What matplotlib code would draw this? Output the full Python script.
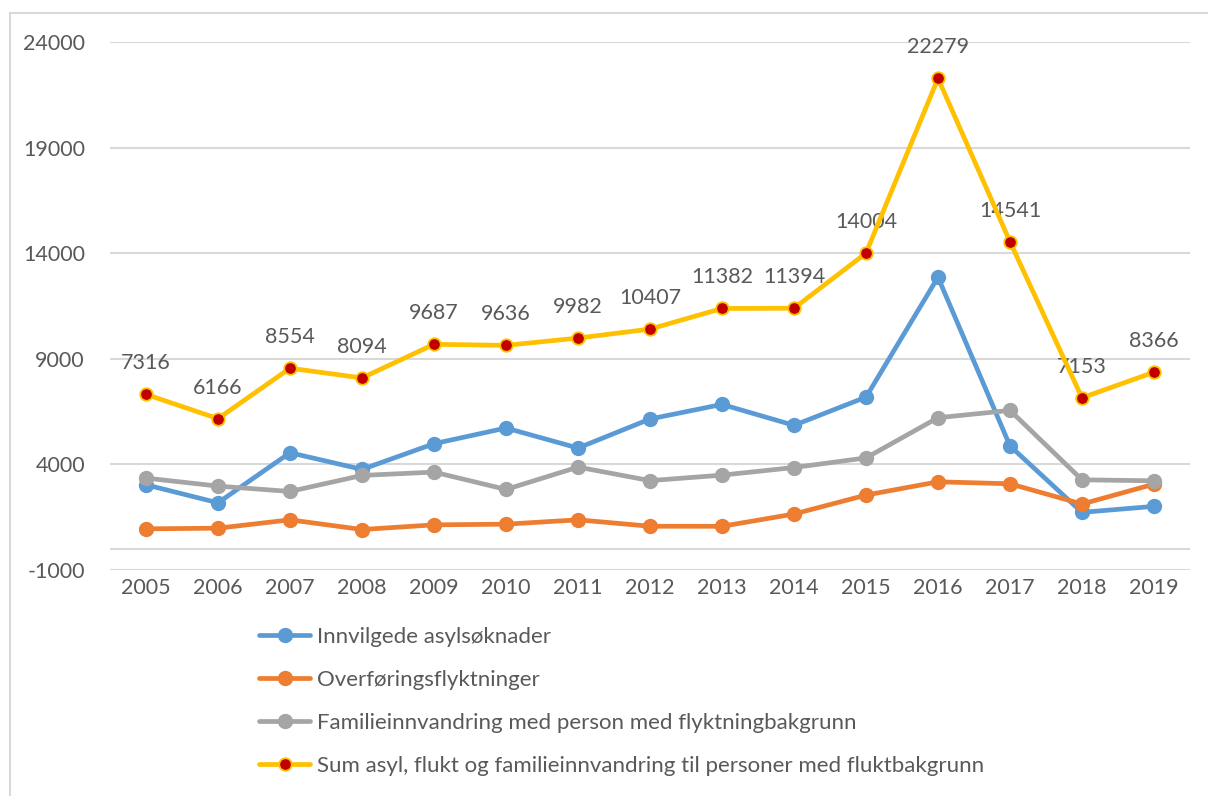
import matplotlib.pyplot as plt
from matplotlib.patches import Rectangle

plt.rcParams['font.family'] = ['Lato', 'DejaVu Sans']

years = ["2005", "2006", "2007", "2008", "2009", "2010", "2011", "2012",
         "2013", "2014", "2015", "2016", "2017", "2018", "2019"]

asyl = [3036, 2182, 4553, 3763, 4980, 5723, 4775, 6150,
        6840, 5850, 7186, 12862, 4874, 1730, 2013]
overforing = [949, 980, 1375, 917, 1138, 1170, 1375, 1072,
              1069, 1651, 2547, 3176, 3082, 2123, 3066]
familie = [3352, 2972, 2719, 3478, 3636, 2814, 3873, 3232,
           3491, 3852, 4308, 6211, 6557, 3270, 3223]
total = [7316, 6166, 8554, 8094, 9687, 9636, 9982, 10407,
         11382, 11394, 14004, 22279, 14541, 7153, 8366]

labels = ["Innvilgede asylsøknader",
          "Overføringsflyktninger",
          "Familieinnvandring med person med flyktningbakgrunn",
          "Sum asyl, flukt og familieinnvandring til personer med fluktbakgrunn"]

yticks = [-1000, 4000, 9000, 14000, 19000, 24000]

txt = '#595959'
grid = '#d9d9d9'

fig = plt.figure(figsize=(12.08, 7.96), dpi=100)
ax = fig.add_axes([110 / 1208, 1 - 570 / 796, 1080 / 1208, 528 / 796])

# chart frame (only the left and top edge are inside the picture)
fig.patches.append(Rectangle((10 / 1208, -0.1), 1.2, 1 - 13 / 796 + 0.1,
                             transform=fig.transFigure, fill=False,
                             edgecolor=grid, linewidth=1.5))

x = range(len(years))
lw = 3.4
ax.plot(x, asyl, color='#5b9bd5', lw=lw, marker='o', ms=10, label=labels[0],
        solid_capstyle='round', zorder=3)
ax.plot(x, overforing, color='#ed7d31', lw=lw, marker='o', ms=10, label=labels[1],
        solid_capstyle='round', zorder=3)
ax.plot(x, familie, color='#a5a5a5', lw=lw, marker='o', ms=10, label=labels[2],
        solid_capstyle='round', zorder=3)
ax.plot(x, total, color='#ffc000', lw=lw, marker='o', ms=9, mfc='#c00000',
        mec='#ffc000', mew=1.3, label=labels[3], solid_capstyle='round', zorder=4)

for i, v in enumerate(total):
    ax.annotate(str(v), (i, v), xytext=(0, 18), textcoords='offset points',
                ha='center', va='baseline', fontsize=15.5, color=txt)

ax.set_xlim(-0.5, len(years) - 0.5)
ax.set_ylim(-1000, 24000)
ax.set_yticks(yticks)
ax.set_yticklabels([str(t) for t in yticks])
ax.set_xticks(list(x))
ax.set_xticklabels(years)
ax.tick_params(axis='both', length=0, labelsize=15.5, labelcolor=txt)
ax.tick_params(axis='x', pad=6)
ax.tick_params(axis='y', pad=18)
ax.grid(axis='y', color=grid, lw=1.5)
ax.axhline(0, color=grid, lw=1.5, zorder=1)
ax.set_axisbelow(True)
for s in ax.spines.values():
    s.set_visible(False)

fig.legend(loc='upper left', bbox_to_anchor=(248 / 1208, 1 - 616 / 796),
           frameon=False, fontsize=16, labelcolor=txt, handlelength=2.3,
           handletextpad=0.3, labelspacing=1.03, borderpad=0)

fig.savefig('out.png', dpi=100, facecolor='white')
